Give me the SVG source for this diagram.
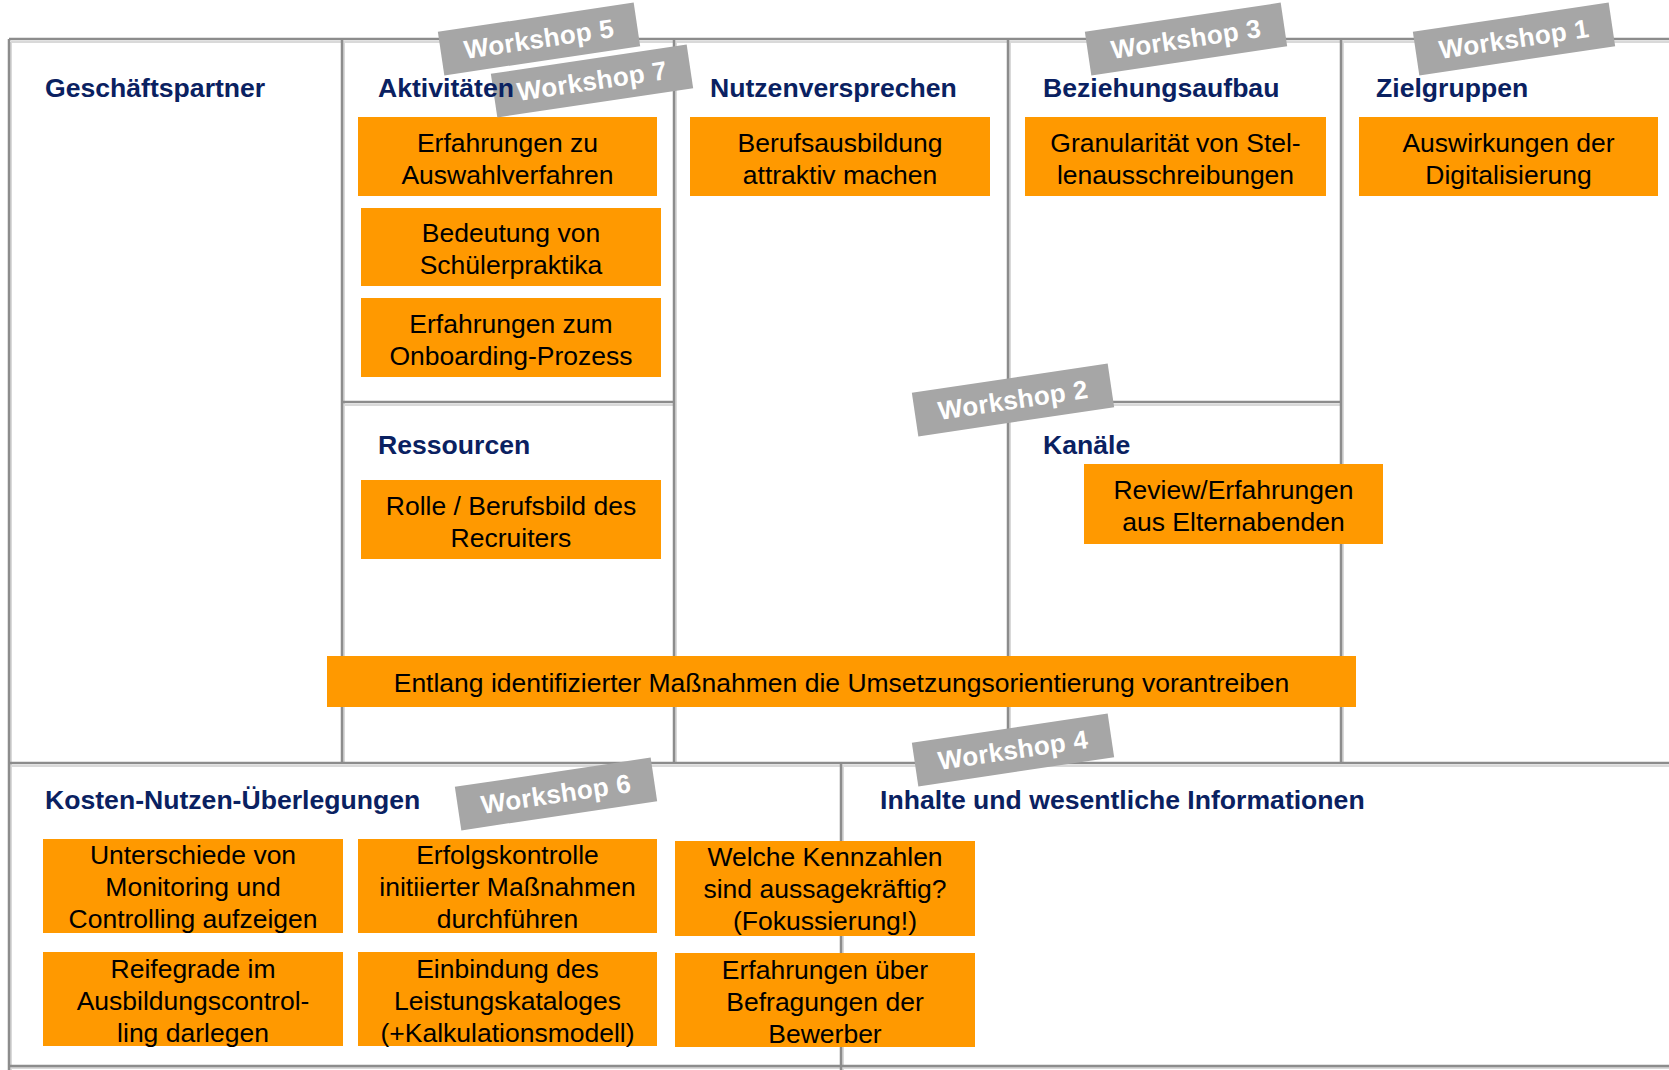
<svg xmlns="http://www.w3.org/2000/svg" width="1669" height="1070" viewBox="0 0 1669 1070">
<style>
.bg{fill:#ffffff}
.ln{stroke:#8c8c8c;stroke-width:2.5;fill:none}
.sh{stroke:#d9d9d9;stroke-width:2;fill:none}
.box{fill:#ff9900}
.bt{font-family:"Liberation Sans",Arial,sans-serif;font-size:26.5px;fill:#000000;text-anchor:middle}
.ttl{font-family:"Liberation Sans",Arial,sans-serif;font-size:26.6px;font-weight:bold;fill:#0a2161}
.tag{fill:#a6a6a6}
.tt{font-family:"Liberation Sans",Arial,sans-serif;font-size:26px;font-weight:bold;fill:#ffffff;text-anchor:middle;letter-spacing:0.3px}
</style>
<rect class="bg" x="0" y="0" width="1669" height="1070"/>
<g id="grid">
  <path class="sh" d="M11 42 H1669 M344 42 V763 M676 42 V763 M1010 42 V763 M1343 42 V763 M344 405 H673 M1010 405 H1341 M11 766 H1669 M843 766 V1070 M11 42 V1070 M11 1068 H1669"/>
  <path class="ln" d="M9 39 H1669 M342 39 V763 M674 39 V763 M1008 39 V763 M1341 39 V763 M342 402 H674 M1008 402 H1341 M9 763 H1669 M841 763 V1070 M9 39 V1070 M9 1066 H1669"/>
</g>
<g id="connectors"></g>
<g id="n-auswahl"><rect class="box" x="358" y="117" width="299" height="79"/>
  <text class="bt" x="507.5" y="152">Erfahrungen zu</text><text class="bt" x="507.5" y="184">Auswahlverfahren</text></g>
<g id="n-praktika"><rect class="box" x="361" y="208" width="300" height="78"/>
  <text class="bt" x="511" y="242">Bedeutung von</text><text class="bt" x="511" y="274">Schülerpraktika</text></g>
<g id="n-onboarding"><rect class="box" x="361" y="298" width="300" height="79"/>
  <text class="bt" x="511" y="333">Erfahrungen zum</text><text class="bt" x="511" y="365">Onboarding-Prozess</text></g>
<g id="n-recruiter"><rect class="box" x="361" y="480" width="300" height="79"/>
  <text class="bt" x="511" y="515">Rolle / Berufsbild des</text><text class="bt" x="511" y="547">Recruiters</text></g>
<g id="n-berufsausbildung"><rect class="box" x="690" y="117" width="300" height="79"/>
  <text class="bt" x="840" y="152">Berufsausbildung</text><text class="bt" x="840" y="184">attraktiv machen</text></g>
<g id="n-granularitaet"><rect class="box" x="1025" y="117" width="301" height="79"/>
  <text class="bt" x="1175.5" y="152">Granularität von Stel-</text><text class="bt" x="1175.5" y="184">lenausschreibungen</text></g>
<g id="n-digitalisierung"><rect class="box" x="1359" y="117" width="299" height="79"/>
  <text class="bt" x="1508.5" y="152">Auswirkungen der</text><text class="bt" x="1508.5" y="184">Digitalisierung</text></g>
<g id="n-elternabende"><rect class="box" x="1084" y="464" width="299" height="80"/>
  <text class="bt" x="1233.5" y="499">Review/Erfahrungen</text><text class="bt" x="1233.5" y="531">aus Elternabenden</text></g>
<g id="n-umsetzung"><rect class="box" x="327" y="656" width="1029" height="51"/>
  <text class="bt" x="841.5" y="692">Entlang identifizierter Maßnahmen die Umsetzungsorientierung vorantreiben</text></g>
<g id="n-monitoring"><rect class="box" x="43" y="839" width="300" height="94"/>
  <text class="bt" x="193" y="864">Unterschiede von</text><text class="bt" x="193" y="896">Monitoring und</text><text class="bt" x="193" y="928">Controlling aufzeigen</text></g>
<g id="n-erfolgskontrolle"><rect class="box" x="358" y="839" width="299" height="94"/>
  <text class="bt" x="507.5" y="864">Erfolgskontrolle</text><text class="bt" x="507.5" y="896">initiierter Maßnahmen</text><text class="bt" x="507.5" y="928">durchführen</text></g>
<g id="n-kennzahlen"><rect class="box" x="675" y="841" width="300" height="95"/>
  <text class="bt" x="825" y="866">Welche Kennzahlen</text><text class="bt" x="825" y="898">sind aussagekräftig?</text><text class="bt" x="825" y="930">(Fokussierung!)</text></g>
<g id="n-reifegrade"><rect class="box" x="43" y="952" width="300" height="94"/>
  <text class="bt" x="193" y="978">Reifegrade im</text><text class="bt" x="193" y="1010">Ausbildungscontrol-</text><text class="bt" x="193" y="1042">ling darlegen</text></g>
<g id="n-leistungskatalog"><rect class="box" x="358" y="952" width="299" height="94"/>
  <text class="bt" x="507.5" y="978">Einbindung des</text><text class="bt" x="507.5" y="1010">Leistungskataloges</text><text class="bt" x="507.5" y="1042">(+Kalkulationsmodell)</text></g>
<g id="n-befragungen"><rect class="box" x="675" y="953" width="300" height="94"/>
  <text class="bt" x="825" y="979">Erfahrungen über</text><text class="bt" x="825" y="1011">Befragungen der</text><text class="bt" x="825" y="1043">Bewerber</text></g>
<g id="ws5" transform="translate(539 39) rotate(-8.5)"><rect class="tag" x="-99" y="-22" width="198" height="44"/><text class="tt" x="0" y="9">Workshop 5</text></g>
<g id="ws7" transform="translate(592 81) rotate(-8.5)"><rect class="tag" x="-99" y="-22" width="198" height="44"/><text class="tt" x="0" y="9">Workshop 7</text></g>
<g id="ws3" transform="translate(1186 39) rotate(-8.5)"><rect class="tag" x="-99" y="-22" width="198" height="44"/><text class="tt" x="0" y="9">Workshop 3</text></g>
<g id="ws1" transform="translate(1514 39) rotate(-8.5)"><rect class="tag" x="-99" y="-22" width="198" height="44"/><text class="tt" x="0" y="9">Workshop 1</text></g>
<g id="ws2" transform="translate(1013 400) rotate(-8.5)"><rect class="tag" x="-99" y="-22" width="198" height="44"/><text class="tt" x="0" y="9">Workshop 2</text></g>
<g id="ws4" transform="translate(1013 750) rotate(-8.5)"><rect class="tag" x="-99" y="-22" width="198" height="44"/><text class="tt" x="0" y="9">Workshop 4</text></g>
<g id="ws6" transform="translate(556 794) rotate(-8.5)"><rect class="tag" x="-99" y="-22" width="198" height="44"/><text class="tt" x="0" y="9">Workshop 6</text></g>
<g id="titles">
  <text id="t-geschaeftspartner" class="ttl" x="45" y="97">Geschäftspartner</text>
  <text id="t-aktivitaeten" class="ttl" x="378" y="97">Aktivitäten</text>
  <text id="t-nutzenversprechen" class="ttl" x="710" y="97">Nutzenversprechen</text>
  <text id="t-beziehungsaufbau" class="ttl" x="1043" y="97">Beziehungsaufbau</text>
  <text id="t-zielgruppen" class="ttl" x="1376" y="97">Zielgruppen</text>
  <text id="t-ressourcen" class="ttl" x="378" y="454">Ressourcen</text>
  <text id="t-kanaele" class="ttl" x="1043" y="454">Kanäle</text>
  <text id="t-kosten" class="ttl" x="45" y="809">Kosten-Nutzen-Überlegungen</text>
  <text id="t-inhalte" class="ttl" x="880" y="809">Inhalte und wesentliche Informationen</text>
</g>
</svg>
